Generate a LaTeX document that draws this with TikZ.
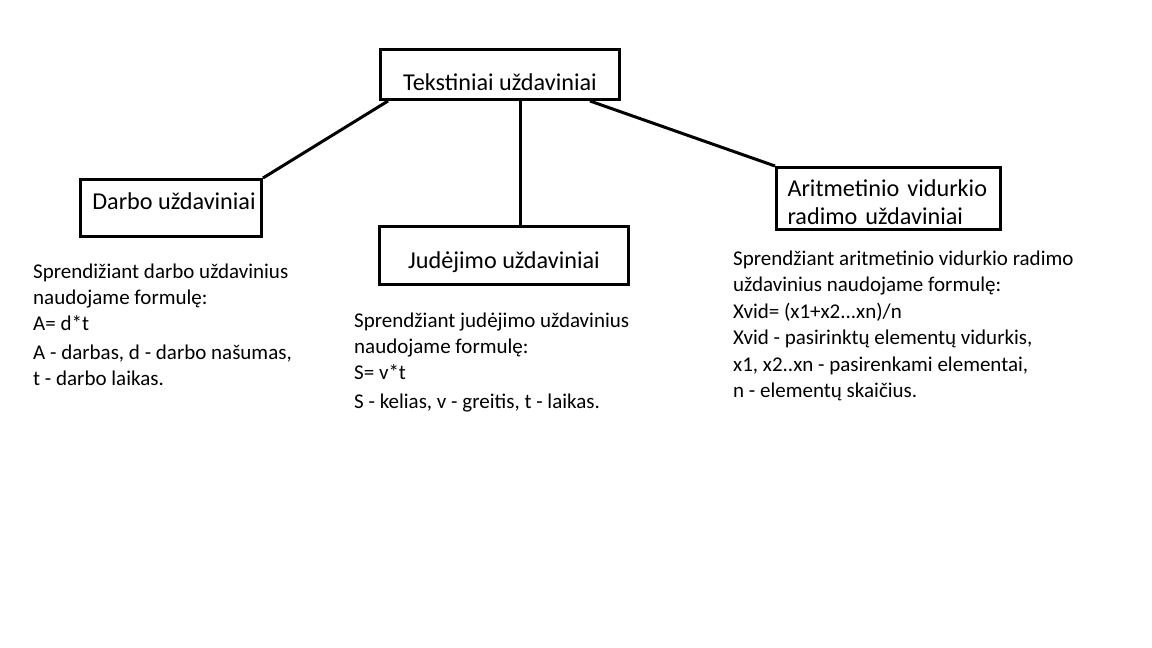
\documentclass[tikz,border=0pt]{standalone}
\usepackage{fontspec}
\setmainfont{Carlito}
\usetikzlibrary{calc}

\begin{document}
\begin{tikzpicture}[x=1pt,y=-1pt,
  box/.style={draw, line width=3pt, inner xsep=0pt, inner ysep=0pt, anchor=base, font=\fontsize{24.2}{28}\selectfont},
  link/.style={line width=3pt},
  note/.style={anchor=base west, align=left, inner sep=0pt, font=\fontsize{21}{26}\selectfont}]
\useasboundingbox (0,0) rectangle (1152,648);
\node[box, minimum width=239, text height=40.5, text depth=9.5] (tekst) at (500,90) {Tekstiniai uždaviniai};
\node[box, minimum width=181, text height=30, text depth=27] (darbo) at (171,209.5) {\hspace{6pt}Darbo uždaviniai};
\node[box, minimum width=249, text height=41.5, text depth=16.5] (judejimo) at (504,268) {Judėjimo uždaviniai};
\node[box, minimum width=224, text width=202, align=left, text height=28.5, text depth=33.5] (aritm) at (888.5,196) {Aritmetinio vidurkio\\radimo uždaviniai};
\draw[link] ($(tekst.south west)+(9,0)$) -- (darbo.north east);
\draw[link] ($(tekst.south)+(20,0)$) coordinate (v) -- (v |- judejimo.north);
\draw[link] ($(tekst.south east)+(-31,0)$) -- (aritm.north west);
\node[note] (darbotxt) at (33,385) {Sprendižiant darbo uždavinius\\naudojame formulę:\\A= d*t\\[3pt]A - darbas, d - darbo našumas,\\t - darbo laikas.};
\node[note] (judtxt) at (354,408) {Sprendžiant judėjimo uždavinius\\naudojame formulę:\\S= v*t\\[3pt]S - kelias, v - greitis, t - laikas.};
\node[note, font=\fontsize{21}{26.5}\selectfont] (arittxt) at (733,397.5) {Sprendžiant aritmetinio vidurkio radimo\\uždavinius naudojame formulę:\\Xvid= (x1+x2...xn)/n\\Xvid - pasirinktų elementų vidurkis,\\x1, x2..xn - pasirenkami elementai,\\n - elementų skaičius.};
\end{tikzpicture}
\end{document}
